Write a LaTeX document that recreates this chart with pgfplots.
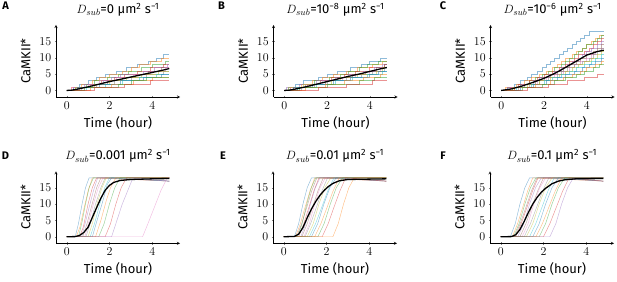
\documentclass[border=0pt]{standalone}
\usepackage{fontspec}
\setmainfont{Fira Sans}
\usepackage{pgfplots}
\pgfplotsset{compat=1.18}
\definecolor{tB}{HTML}{1F77B4}
\definecolor{tO}{HTML}{FF7F0E}
\definecolor{tG}{HTML}{2CA02C}
\definecolor{tR}{HTML}{D62728}
\definecolor{tP}{HTML}{9467BD}
\definecolor{tBr}{HTML}{8C564B}
\definecolor{tPk}{HTML}{E377C2}
\definecolor{tGy}{HTML}{7F7F7F}
\definecolor{tOl}{HTML}{BCBD22}
\definecolor{tC}{HTML}{17BECF}
\pgfplotscreateplotcyclelist{tabs}{{tB},{tO},{tG},{tR},{tP},{tBr},{tPk},{tGy},{tOl},{tC}}
\pgfplotsset{panel/.style={
  anchor=south west, scale only axis, width=124pt, height=72pt,
  xmin=-0.5, xmax=5.3, ymin=-2, ymax=20,
  axis lines=left, xtick={0,2,4}, ytick={0,5,10,15},
  tick label style={font=\fontsize{11.5}{12}\selectfont},
  label style={font=\fontsize{13}{15}\selectfont},
  ylabel style={yshift=2pt},
  title style={font=\fontsize{13}{15}\selectfont, yshift=-1pt},
  xlabel={Time (hour)}, ylabel={CaMKII*},
  cycle list name=tabs, no markers,
  every axis plot/.append style={line width=0.45pt, opacity=0.5},
  major tick length=2.5pt,
}}
\tikzset{meanline/.style={black, line width=1.3pt, opacity=1}}
\newcommand{\plab}[1]{\fontsize{11}{12}\selectfont\bfseries #1}
\begin{document}
\begin{tikzpicture}
\useasboundingbox (0,0) rectangle (617pt,281pt);
\node at (5.5pt,275pt) {\plab{A}};
\node at (221.5pt,275pt) {\plab{B}};
\node at (443pt,275pt) {\plab{C}};
\node at (5.5pt,125.5pt) {\plab{D}};
\node at (223pt,125.5pt) {\plab{E}};
\node at (443pt,125.5pt) {\plab{F}};
% ---------------- A
\begin{axis}[panel, at={(56pt,184pt)}, title={$D_{sub}$=0 µm\textsuperscript{2} s\textsuperscript{−1}}]
\addplot+[const plot] coordinates {(0,0)(0.3,1)(0.6,2)(1.0,3)(1.4,4)(1.8,5)(2.3,6)(2.8,7)(3.3,8)(3.8,9)(4.2,10)(4.5,11)(4.8,11)};
\addplot+[const plot] coordinates {(0,0)(0.2,1)(0.7,2)(1.2,3)(1.5,4)(2.0,5)(2.6,6)(3.0,7)(3.4,8)(3.9,9)(4.4,10)(4.8,10)};
\addplot+[const plot] coordinates {(0,0)(0.4,1)(0.9,2)(1.3,3)(1.9,4)(2.4,5)(2.9,6)(3.5,7)(4.0,8)(4.6,9)(4.8,9)};
\addplot+[const plot] coordinates {(0,0)(0.5,1)(1.1,2)(1.6,3)(2.2,4)(2.7,5)(3.3,6)(3.9,7)(4.5,8)(4.8,8)};
\addplot+[const plot] coordinates {(0,0)(0.3,1)(0.8,2)(1.7,3)(2.1,4)(2.5,5)(3.6,6)(4.1,7)(4.7,8)(4.8,8)};
\addplot+[const plot] coordinates {(0,0)(0.6,1)(1.2,2)(1.9,3)(2.6,4)(3.2,5)(3.8,6)(4.4,7)(4.8,7)};
\addplot+[const plot] coordinates {(0,0)(0.2,1)(1.0,2)(1.5,3)(2.3,4)(3.1,5)(3.9,6)(4.6,7)(4.8,7)};
\addplot+[const plot] coordinates {(0,0)(0.7,1)(1.4,2)(2.2,3)(3.0,4)(3.7,5)(4.5,6)(4.8,6)};
\addplot+[const plot] coordinates {(0,0)(0.4,1)(1.3,2)(2.0,3)(2.8,4)(3.5,5)(4.3,6)(4.8,6)};
\addplot+[const plot] coordinates {(0,0)(0.9,1)(1.8,2)(2.6,3)(3.4,4)(4.2,5)(4.8,5)};
\addplot+[const plot] coordinates {(0,0)(0.5,1)(1.5,2)(2.5,3)(3.6,4)(4.4,5)(4.8,5)};
\addplot+[const plot] coordinates {(0,0)(1.1,1)(2.1,2)(3.1,3)(4.0,4)(4.8,4)};
\addplot+[const plot] coordinates {(0,0)(0.8,1)(2.4,2)(3.0,3)(3.7,4)(4.8,4)};
\addplot+[const plot] coordinates {(0,0)(1.3,1)(2.7,2)(3.9,3)(4.8,3)};
\addplot[meanline] coordinates {(0,0)(0.25,0.1)(0.5,0.4)(1,1.1)(1.5,1.9)(2,2.7)(2.5,3.4)(3,4.1)(3.5,4.8)(4,5.5)(4.5,6.2)(4.8,6.7)};
\end{axis}
% ---------------- B
\begin{axis}[panel, at={(273.5pt,184pt)}, title={$D_{sub}$=10\textsuperscript{−8} µm\textsuperscript{2} s\textsuperscript{−1}}]
\addplot+[const plot] coordinates {(0,0)(0.2,1)(0.5,2)(0.9,3)(1.6,4)(2.0,5)(2.5,6)(3.1,7)(3.6,8)(4.0,9)(4.5,10)(4.8,10)};
\addplot+[const plot] coordinates {(0,0)(0.3,1)(0.8,2)(1.3,3)(1.8,4)(2.3,5)(2.9,6)(3.4,7)(4.1,8)(4.6,9)(4.8,9)};
\addplot+[const plot] coordinates {(0,0)(0.6,1)(1.0,2)(1.4,3)(2.1,4)(2.6,5)(3.0,6)(3.5,7)(3.9,8)(4.4,9)(4.8,9)};
\addplot+[const plot] coordinates {(0,0)(0.4,1)(1.1,2)(1.7,3)(2.2,4)(2.8,5)(3.3,6)(4.0,7)(4.7,8)(4.8,8)};
\addplot+[const plot] coordinates {(0,0)(0.1,1)(0.7,2)(1.5,3)(2.4,4)(3.0,5)(3.7,6)(4.2,7)(4.6,8)(4.8,8)};
\addplot+[const plot] coordinates {(0,0)(0.5,1)(1.2,2)(1.9,3)(2.5,4)(3.2,5)(3.8,6)(4.3,7)(4.7,8)(4.8,8)};
\addplot+[const plot] coordinates {(0,0)(0.3,1)(1.0,2)(1.8,3)(2.7,4)(3.3,5)(4.0,6)(4.5,7)(4.8,7)};
\addplot+[const plot] coordinates {(0,0)(0.8,1)(1.4,2)(2.0,3)(2.9,4)(3.6,5)(4.1,6)(4.7,7)(4.8,7)};
\addplot+[const plot] coordinates {(0,0)(0.2,1)(0.9,2)(2.2,3)(2.6,4)(3.4,5)(4.3,6)(4.6,7)(4.8,7)};
\addplot+[const plot] coordinates {(0,0)(0.6,1)(1.5,2)(2.4,3)(3.2,4)(3.9,5)(4.6,6)(4.8,6)};
\addplot+[const plot] coordinates {(0,0)(0.4,1)(1.3,2)(2.3,3)(3.1,4)(4.0,5)(4.4,6)(4.8,6)};
\addplot+[const plot] coordinates {(0,0)(1.0,1)(1.9,2)(2.8,3)(3.7,4)(4.5,5)(4.8,5)};
\addplot+[const plot] coordinates {(0,0)(0.7,1)(2.0,2)(3.5,3)(4.2,4)(4.8,4)};
\addplot+[const plot] coordinates {(0,0)(1.6,1)(2.9,2)(4.1,3)(4.8,3)};
\addplot[meanline] coordinates {(0,0)(0.25,0.1)(0.5,0.4)(1,1.1)(1.5,1.9)(2,2.7)(2.5,3.5)(3,4.3)(3.5,5.0)(4,5.8)(4.5,6.6)(4.8,7.0)};
\end{axis}
% ---------------- C
\begin{axis}[panel, at={(490.5pt,184pt)}, title={$D_{sub}$=10\textsuperscript{−6} µm\textsuperscript{2} s\textsuperscript{−1}}]
\addplot+[const plot] coordinates {(0,0)(0.3,1)(0.6,2)(0.9,3)(1.2,4)(1.4,5)(1.7,6)(1.9,7)(2.1,8)(2.3,9)(2.5,10)(2.7,11)(2.9,12)(3.1,13)(3.3,14)(3.5,15)(3.7,16)(3.9,17)(4.1,18)(4.8,18)};
\addplot+[const plot] coordinates {(0,0)(0.2,1)(0.7,2)(1.1,3)(1.4,4)(1.8,5)(2.1,6)(2.4,7)(2.6,8)(2.8,9)(3.0,10)(3.3,11)(3.5,12)(3.8,13)(4.0,14)(4.2,15)(4.4,16)(4.6,17)(4.8,17)};
\addplot+[const plot] coordinates {(0,0)(0.5,1)(0.9,2)(1.3,3)(1.6,4)(1.9,5)(2.2,6)(2.5,7)(2.8,8)(3.0,9)(3.2,10)(3.4,11)(3.6,12)(3.8,13)(4.0,14)(4.3,15)(4.5,16)(4.7,17)(4.8,17)};
\addplot+[const plot] coordinates {(0,0)(0.4,1)(0.8,2)(1.3,3)(1.7,4)(2.0,5)(2.4,6)(2.7,7)(3.0,8)(3.2,9)(3.4,10)(3.6,11)(3.9,12)(4.1,13)(4.3,14)(4.5,15)(4.7,16)(4.8,16)};
\addplot+[const plot] coordinates {(0,0)(0.3,1)(0.9,2)(1.5,3)(1.8,4)(2.2,5)(2.5,6)(2.8,7)(3.1,8)(3.3,9)(3.6,10)(3.8,11)(4.0,12)(4.2,13)(4.5,14)(4.7,15)(4.8,15)};
\addplot+[const plot] coordinates {(0,0)(0.6,1)(1.1,2)(1.6,3)(2.0,4)(2.3,5)(2.6,6)(2.9,7)(3.2,8)(3.5,9)(3.7,10)(4.0,11)(4.3,12)(4.5,13)(4.7,14)(4.8,14)};
\addplot+[const plot] coordinates {(0,0)(0.4,1)(1.0,2)(1.7,3)(2.1,4)(2.5,5)(2.9,6)(3.2,7)(3.4,8)(3.7,9)(4.0,10)(4.2,11)(4.4,12)(4.7,13)(4.8,13)};
\addplot+[const plot] coordinates {(0,0)(0.8,1)(1.3,2)(1.8,3)(2.2,4)(2.6,5)(2.8,6)(3.1,7)(3.4,8)(3.8,9)(4.1,10)(4.3,11)(4.5,12)(4.7,13)(4.8,13)};
\addplot+[const plot] coordinates {(0,0)(0.5,1)(1.2,2)(1.8,3)(2.3,4)(2.7,5)(3.0,6)(3.3,7)(3.6,8)(3.9,9)(4.2,10)(4.5,11)(4.7,12)(4.8,12)};
\addplot+[const plot] coordinates {(0,0)(0.7,1)(1.4,2)(2.0,3)(2.4,4)(2.8,5)(3.2,6)(3.5,7)(3.9,8)(4.2,9)(4.4,10)(4.7,11)(4.8,11)};
\addplot+[const plot] coordinates {(0,0)(0.9,1)(1.5,2)(2.1,3)(2.6,4)(3.0,5)(3.4,6)(3.8,7)(4.1,8)(4.4,9)(4.7,10)(4.8,10)};
\addplot+[const plot] coordinates {(0,0)(0.6,1)(1.6,2)(2.3,3)(2.9,4)(3.3,5)(3.7,6)(4.0,7)(4.4,8)(4.7,9)(4.8,9)};
\addplot+[const plot] coordinates {(0,0)(1.0,1)(1.9,2)(2.5,3)(3.0,4)(3.5,5)(3.9,6)(4.3,7)(4.6,8)(4.8,8)};
\addplot+[const plot] coordinates {(0,0)(1.2,1)(2.2,2)(3.1,3)(3.9,4)(4.5,5)(4.8,5)};
\addplot[meanline] coordinates {(0,0)(0.5,0.5)(1,1.4)(1.5,2.5)(2,3.7)(2.5,5.2)(3,7)(3.5,8.9)(4,10.8)(4.5,11.9)(4.8,12.3)};
\end{axis}
% ---------------- D
\begin{axis}[panel, at={(56pt,37.7pt)}, title={$D_{sub}$=0.001 µm\textsuperscript{2} s\textsuperscript{−1}}]
\addplot+ coordinates {(0,0)(0.40,0)(0.55,4)(0.72,10)(0.88,15)(1.05,18)(4.8,18)};
\addplot+ coordinates {(0,0)(0.45,0)(0.62,3)(0.82,9)(1.0,14)(1.2,18)(4.8,17)};
\addplot+ coordinates {(0,0)(0.55,0)(0.70,4)(0.88,10)(1.05,15)(1.25,18)(4.8,18)};
\addplot+ coordinates {(0,0)(0.6,0)(0.78,3)(1.0,10)(1.2,15)(1.4,18)(4.8,18)};
\addplot+ coordinates {(0,0)(0.7,0)(0.86,4)(1.05,9)(1.25,14)(1.45,18)(4.8,17)};
\addplot+ coordinates {(0,0)(0.75,0)(0.95,4)(1.15,9)(1.40,15)(1.6,18)(4.8,18)};
\addplot+ coordinates {(0,0)(0.85,0)(1.05,5)(1.25,10)(1.48,15)(1.7,18)(4.8,18)};
\addplot+ coordinates {(0,0)(0.9,0)(1.1,4)(1.35,10)(1.6,15)(1.8,18)(4.8,17)};
\addplot+ coordinates {(0,0)(1.0,0)(1.2,4)(1.42,10)(1.65,15)(1.85,18)(4.8,18)};
\addplot+ coordinates {(0,0)(1.1,0)(1.3,4)(1.55,10)(1.78,15)(2.0,18)(4.8,18)};
\addplot+ coordinates {(0,0)(1.2,0)(1.42,5)(1.65,10)(1.9,16)(2.1,18)(4.8,17)};
\addplot+ coordinates {(0,0)(1.35,0)(1.6,5)(1.85,11)(2.05,15)(2.3,18)(4.8,18)};
\addplot+ coordinates {(0,0)(1.5,0)(1.75,4)(2.0,10)(2.25,15)(2.5,18)(4.8,18)};
\addplot+ coordinates {(0,0)(1.8,0)(2.05,4)(2.3,10)(2.55,15)(2.8,18)(4.8,18)};
\addplot+ coordinates {(0,0)(2.1,0)(2.35,5)(2.6,10)(2.85,14)(3.1,18)(4.8,17)};
\addplot+[tPk] coordinates {(0,0)(3.55,0)(3.8,4)(4.1,9)(4.4,14)(4.7,18)(4.8,18)};
\addplot[meanline] coordinates {(0,0)(0.4,0.05)(0.6,0.4)(0.8,1.3)(1.0,2.9)(1.2,5.9)(1.4,8.9)(1.6,11.8)(1.8,14.2)(2.0,15.7)(2.2,16.6)(2.5,17.2)(3.0,17.5)(4.0,17.7)(4.8,17.8)};
\end{axis}
% ---------------- E
\begin{axis}[panel, at={(273pt,37.7pt)}, title={$D_{sub}$=0.01 µm\textsuperscript{2} s\textsuperscript{−1}}]
\addplot+ coordinates {(0,0)(0.50,0)(0.70,4)(0.90,10)(1.10,15)(1.30,18)(4.8,18)};
\addplot+ coordinates {(0,0)(0.55,0)(0.78,4)(1.00,9)(1.23,14)(1.45,18)(4.8,17)};
\addplot+ coordinates {(0,0)(0.65,0)(0.86,4)(1.08,10)(1.29,15)(1.50,18)(4.8,18)};
\addplot+ coordinates {(0,0)(0.70,0)(0.94,4)(1.18,9)(1.41,14)(1.65,18)(4.8,18)};
\addplot+ coordinates {(0,0)(0.80,0)(1.03,4)(1.25,10)(1.48,15)(1.70,18)(4.8,17)};
\addplot+ coordinates {(0,0)(0.85,0)(1.10,4)(1.35,9)(1.60,14)(1.85,18)(4.8,18)};
\addplot+ coordinates {(0,0)(0.95,0)(1.20,4)(1.45,10)(1.70,15)(1.95,18)(4.8,18)};
\addplot+ coordinates {(0,0)(1.00,0)(1.26,4)(1.53,9)(1.79,14)(2.05,18)(4.8,17)};
\addplot+ coordinates {(0,0)(1.10,0)(1.38,4)(1.65,10)(1.93,15)(2.20,18)(4.8,18)};
\addplot+ coordinates {(0,0)(1.20,0)(1.49,4)(1.78,9)(2.06,14)(2.35,18)(4.8,18)};
\addplot+ coordinates {(0,0)(1.30,0)(1.59,4)(1.88,10)(2.16,15)(2.45,18)(4.8,17)};
\addplot+ coordinates {(0,0)(1.45,0)(1.74,4)(2.03,9)(2.31,14)(2.60,18)(4.8,18)};
\addplot+ coordinates {(0,0)(1.60,0)(1.89,4)(2.18,10)(2.46,15)(2.75,18)(4.8,18)};
\addplot+ coordinates {(0,0)(1.80,0)(2.08,4)(2.35,9)(2.63,14)(2.90,18)(4.8,17)};
\addplot+[tO] coordinates {(0,0)(2.30,0)(2.55,4)(2.80,10)(3.05,15)(3.30,18)(4.8,18)};
\addplot+ coordinates {(0,0)(0.60,0)(0.84,4)(1.08,9)(1.31,14)(1.55,18)(4.8,18)};
\addplot[meanline] coordinates {(0,0)(0.5,0.1)(0.7,0.8)(0.9,2.8)(1.1,5.8)(1.3,8.5)(1.5,10.8)(1.7,12.7)(1.9,14.2)(2.1,15.4)(2.3,16.3)(2.6,17.1)(3.0,17.5)(4.8,17.7)};
\end{axis}
% ---------------- F
\begin{axis}[panel, at={(490pt,37.7pt)}, title={$D_{sub}$=0.1 µm\textsuperscript{2} s\textsuperscript{−1}}]
\addplot+ coordinates {(0,0)(0.45,0)(0.68,4)(0.90,10)(1.13,15)(1.35,18)(4.8,18)};
\addplot+ coordinates {(0,0)(0.55,0)(0.79,4)(1.03,9)(1.26,14)(1.50,18)(4.8,17)};
\addplot+ coordinates {(0,0)(0.60,0)(0.86,4)(1.13,10)(1.39,15)(1.65,18)(4.8,18)};
\addplot+ coordinates {(0,0)(0.70,0)(0.96,4)(1.23,9)(1.49,14)(1.75,18)(4.8,18)};
\addplot+ coordinates {(0,0)(0.80,0)(1.08,4)(1.35,10)(1.63,15)(1.90,18)(4.8,17)};
\addplot+ coordinates {(0,0)(0.90,0)(1.18,4)(1.45,9)(1.73,14)(2.00,18)(4.8,18)};
\addplot+ coordinates {(0,0)(1.00,0)(1.28,4)(1.55,10)(1.83,15)(2.10,18)(4.8,18)};
\addplot+ coordinates {(0,0)(1.10,0)(1.39,4)(1.68,9)(1.96,14)(2.25,18)(4.8,17)};
\addplot+ coordinates {(0,0)(1.20,0)(1.50,4)(1.80,10)(2.10,15)(2.40,18)(4.8,18)};
\addplot+ coordinates {(0,0)(1.35,0)(1.64,4)(1.93,9)(2.21,14)(2.50,18)(4.8,18)};
\addplot+ coordinates {(0,0)(1.50,0)(1.80,4)(2.10,10)(2.40,15)(2.70,18)(4.8,17)};
\addplot+ coordinates {(0,0)(1.65,0)(1.95,4)(2.25,9)(2.55,14)(2.85,18)(4.8,18)};
\addplot+ coordinates {(0,0)(1.80,0)(2.10,4)(2.40,10)(2.70,15)(3.00,18)(4.8,18)};
\addplot+ coordinates {(0,0)(2.00,0)(2.30,4)(2.60,9)(2.90,14)(3.20,18)(4.8,17)};
\addplot+ coordinates {(0,0)(2.30,0)(2.58,4)(2.85,10)(3.13,15)(3.40,18)(4.8,18)};
\addplot+ coordinates {(0,0)(0.65,0)(0.91,4)(1.18,9)(1.44,14)(1.70,18)(4.8,18)};
\addplot[meanline] coordinates {(0,0)(0.5,0.05)(0.7,0.6)(0.9,2.2)(1.1,4.7)(1.3,7.5)(1.5,10)(1.7,12)(1.9,13.6)(2.1,14.8)(2.4,16.2)(2.7,17)(3.0,17.4)(3.5,17.7)(4.8,17.8)};
\end{axis}
\end{tikzpicture}
\end{document}
